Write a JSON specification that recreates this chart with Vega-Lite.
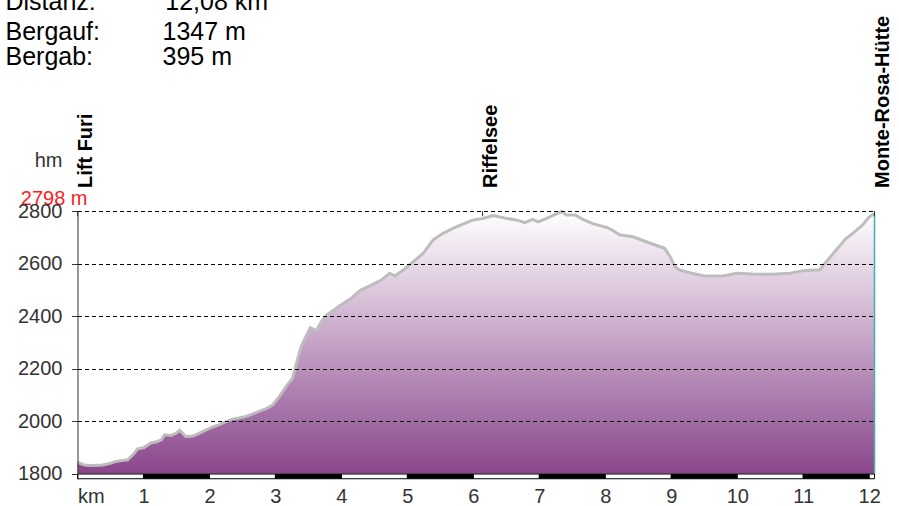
{
  "$schema": "https://vega.github.io/schema/vega-lite/v6.json",
  "width": 797,
  "height": 268,
  "autosize": {"type": "none"},
  "padding": {"left": 77.5, "top": 211, "right": 24.5, "bottom": 27},
  "background": "white",
  "config": {"view": {"stroke": null}, "font": "Liberation Sans"},
  "title": {
    "text": "Distanz:\u00a0\u00a0\u00a0\u00a0\u00a0\u00a0\u00a0\u00a0\u00a0\u00a012,08 km",
    "subtitle": ["Bergauf:\u00a0\u00a0\u00a0\u00a0\u00a0\u00a0\u00a0\u00a0\u00a01347 m", "Bergab:\u00a0\u00a0\u00a0\u00a0\u00a0\u00a0\u00a0\u00a0\u00a0\u00a0395 m"],
    "anchor": "start",
    "frame": "group",
    "orient": "top",
    "font": "Liberation Sans",
    "fontSize": 25,
    "fontWeight": "normal",
    "color": "#000000",
    "subtitleFont": "Liberation Sans",
    "subtitleFontSize": 25,
    "subtitleColor": "#000000",
    "subtitleLineHeight": 24.5,
    "subtitlePadding": 5,
    "offset": 0,
    "dx": -72,
    "dy": 54
  },
  "datasets": {
    "profil": [
      {"km": 0.00, "hoehe": 1845},
      {"km": 0.05, "hoehe": 1838},
      {"km": 0.13, "hoehe": 1832},
      {"km": 0.25, "hoehe": 1831},
      {"km": 0.38, "hoehe": 1833},
      {"km": 0.50, "hoehe": 1840},
      {"km": 0.58, "hoehe": 1847},
      {"km": 0.70, "hoehe": 1851},
      {"km": 0.76, "hoehe": 1853},
      {"km": 0.85, "hoehe": 1875},
      {"km": 0.91, "hoehe": 1895},
      {"km": 1.01, "hoehe": 1900},
      {"km": 1.11, "hoehe": 1917},
      {"km": 1.20, "hoehe": 1922},
      {"km": 1.27, "hoehe": 1929},
      {"km": 1.32, "hoehe": 1948},
      {"km": 1.42, "hoehe": 1946},
      {"km": 1.50, "hoehe": 1955},
      {"km": 1.55, "hoehe": 1965},
      {"km": 1.60, "hoehe": 1952},
      {"km": 1.64, "hoehe": 1942},
      {"km": 1.75, "hoehe": 1944},
      {"km": 1.85, "hoehe": 1955},
      {"km": 1.95, "hoehe": 1967},
      {"km": 2.05, "hoehe": 1978},
      {"km": 2.15, "hoehe": 1987},
      {"km": 2.25, "hoehe": 1998},
      {"km": 2.35, "hoehe": 2008},
      {"km": 2.45, "hoehe": 2012},
      {"km": 2.55, "hoehe": 2018},
      {"km": 2.65, "hoehe": 2027},
      {"km": 2.75, "hoehe": 2037},
      {"km": 2.86, "hoehe": 2048},
      {"km": 2.96, "hoehe": 2062},
      {"km": 3.06, "hoehe": 2094},
      {"km": 3.16, "hoehe": 2132},
      {"km": 3.26, "hoehe": 2164},
      {"km": 3.32, "hoehe": 2221},
      {"km": 3.39, "hoehe": 2284},
      {"km": 3.45, "hoehe": 2316},
      {"km": 3.53, "hoehe": 2356},
      {"km": 3.62, "hoehe": 2345},
      {"km": 3.70, "hoehe": 2380},
      {"km": 3.78, "hoehe": 2405},
      {"km": 3.87, "hoehe": 2420},
      {"km": 3.95, "hoehe": 2436},
      {"km": 4.05, "hoehe": 2452},
      {"km": 4.15, "hoehe": 2468},
      {"km": 4.28, "hoehe": 2497},
      {"km": 4.43, "hoehe": 2515},
      {"km": 4.61, "hoehe": 2538},
      {"km": 4.73, "hoehe": 2563},
      {"km": 4.81, "hoehe": 2553},
      {"km": 4.94, "hoehe": 2576},
      {"km": 5.09, "hoehe": 2607},
      {"km": 5.24, "hoehe": 2639},
      {"km": 5.39, "hoehe": 2690},
      {"km": 5.54, "hoehe": 2715},
      {"km": 5.69, "hoehe": 2734},
      {"km": 5.85, "hoehe": 2751},
      {"km": 6.00, "hoehe": 2766},
      {"km": 6.15, "hoehe": 2772},
      {"km": 6.30, "hoehe": 2783},
      {"km": 6.50, "hoehe": 2772},
      {"km": 6.65, "hoehe": 2766},
      {"km": 6.78, "hoehe": 2756},
      {"km": 6.90, "hoehe": 2768},
      {"km": 6.98, "hoehe": 2759},
      {"km": 7.11, "hoehe": 2772},
      {"km": 7.25, "hoehe": 2788},
      {"km": 7.34, "hoehe": 2798},
      {"km": 7.41, "hoehe": 2785},
      {"km": 7.54, "hoehe": 2785},
      {"km": 7.66, "hoehe": 2768},
      {"km": 7.82, "hoehe": 2751},
      {"km": 8.02, "hoehe": 2738},
      {"km": 8.12, "hoehe": 2725},
      {"km": 8.22, "hoehe": 2709},
      {"km": 8.42, "hoehe": 2702},
      {"km": 8.62, "hoehe": 2683},
      {"km": 8.83, "hoehe": 2664},
      {"km": 8.90, "hoehe": 2658},
      {"km": 8.98, "hoehe": 2627},
      {"km": 9.05, "hoehe": 2590},
      {"km": 9.12, "hoehe": 2576},
      {"km": 9.28, "hoehe": 2565},
      {"km": 9.48, "hoehe": 2554},
      {"km": 9.78, "hoehe": 2553},
      {"km": 9.99, "hoehe": 2563},
      {"km": 10.24, "hoehe": 2560},
      {"km": 10.54, "hoehe": 2559},
      {"km": 10.80, "hoehe": 2563},
      {"km": 11.00, "hoehe": 2573},
      {"km": 11.25, "hoehe": 2576},
      {"km": 11.35, "hoehe": 2607},
      {"km": 11.50, "hoehe": 2652},
      {"km": 11.65, "hoehe": 2696},
      {"km": 11.75, "hoehe": 2715},
      {"km": 11.90, "hoehe": 2747},
      {"km": 12.00, "hoehe": 2778},
      {"km": 12.08, "hoehe": 2790}
    ],
    "kilometer": [
      {"von": 0, "bis": 1, "abschnitt": "hell"},
      {"von": 1, "bis": 2, "abschnitt": "dunkel"},
      {"von": 2, "bis": 3, "abschnitt": "hell"},
      {"von": 3, "bis": 4, "abschnitt": "dunkel"},
      {"von": 4, "bis": 5, "abschnitt": "hell"},
      {"von": 5, "bis": 6, "abschnitt": "dunkel"},
      {"von": 6, "bis": 7, "abschnitt": "hell"},
      {"von": 7, "bis": 8, "abschnitt": "dunkel"},
      {"von": 8, "bis": 9, "abschnitt": "hell"},
      {"von": 9, "bis": 10, "abschnitt": "dunkel"},
      {"von": 10, "bis": 11, "abschnitt": "hell"},
      {"von": 11, "bis": 12, "abschnitt": "dunkel"},
      {"von": 12, "bis": 12.08, "abschnitt": "hell"}
    ],
    "punkte": [
      {"name": "Lift Furi", "km": 0},
      {"name": "Riffelsee", "km": 6.14},
      {"name": "Monte-Rosa-Hütte", "km": 12.08}
    ]
  },
  "layer": [
    {
      "data": {"name": "profil"},
      "mark": {
        "type": "area",
        "color": {
          "gradient": "linear",
          "x1": 0, "y1": 0, "x2": 0, "y2": 1,
          "stops": [
            {"offset": 0, "color": "#ffffff"},
            {"offset": 1, "color": "#8a468c"}
          ]
        }
      },
      "encoding": {
        "x": {
          "field": "km",
          "type": "quantitative",
          "scale": {"domain": [0, 12.08], "nice": false, "zero": false},
          "axis": {
            "values": [0, 1, 2, 3, 4, 5, 6, 7, 8, 9, 10, 11, 12],
            "format": "d",
            "grid": false,
            "domain": false,
            "ticks": false,
            "title": null,
            "labelFont": "Liberation Sans",
            "labelFontSize": 20,
            "labelColor": "#333333",
            "labelPadding": 7,
            "labelFlush": false,
            "labelOverlap": false,
            "labelExpr": "datum.value == 0 ? 'km' : datum.label",
            "labelAlign": {"condition": {"test": "datum.value == 0", "value": "left"}, "value": "center"}
          }
        },
        "y": {
          "field": "hoehe",
          "type": "quantitative",
          "scale": {"domain": [1780, 2800], "nice": false, "zero": false},
          "axis": {
            "values": [1800, 2000, 2200, 2400, 2600, 2800],
            "zindex": 1,
            "grid": true,
            "gridColor": "#000000",
            "gridDash": [4, 3],
            "gridWidth": 1,
            "gridOpacity": {"condition": {"test": "datum.value <= 1800", "value": 0}, "value": 1},
            "domain": true,
            "domainColor": "#333333",
            "ticks": true,
            "tickSize": 6,
            "tickColor": "#333333",
            "labelFont": "Liberation Sans",
            "labelFontSize": 20,
            "labelColor": "#333333",
            "labelPadding": 9.5,
            "format": "d",
            "title": "hm",
            "titleAngle": 0,
            "titleAlign": "right",
            "titleBaseline": "alphabetic",
            "titleX": -15.5,
            "titleY": -44.5,
            "titleFont": "Liberation Sans",
            "titleFontSize": 20,
            "titleFontWeight": "normal",
            "titleColor": "#333333"
          }
        },
        "y2": {"datum": 1800}
      }
    },
    {
      "data": {"name": "profil"},
      "mark": {"type": "line", "color": "#bdbdbd", "strokeWidth": 3},
      "encoding": {
        "x": {"field": "km", "type": "quantitative"},
        "y": {"field": "hoehe", "type": "quantitative"}
      }
    },
    {
      "data": {"name": "profil"},
      "transform": [
        {"joinaggregate": [{"op": "max", "field": "km", "as": "ende"}]},
        {"filter": "datum.km == datum.ende"}
      ],
      "mark": {"type": "rule", "color": "#3fb0b5", "strokeWidth": 1.5},
      "encoding": {
        "x": {"field": "km", "type": "quantitative"},
        "y": {"field": "hoehe", "type": "quantitative"},
        "y2": {"datum": 1800}
      }
    },
    {
      "data": {"name": "kilometer"},
      "mark": {"type": "rect", "stroke": "#000000", "strokeWidth": 1},
      "encoding": {
        "x": {"field": "von", "type": "quantitative"},
        "x2": {"field": "bis"},
        "y": {"datum": 1781},
        "y2": {"datum": 1799},
        "fill": {
          "field": "abschnitt",
          "type": "nominal",
          "scale": {"domain": ["hell", "dunkel"], "range": ["#ffffff", "#000000"]},
          "legend": null
        }
      }
    },
    {
      "data": {"name": "punkte"},
      "mark": {"type": "rule", "color": "#333333", "strokeWidth": 1},
      "encoding": {
        "x": {"field": "km", "type": "quantitative"},
        "y": {"datum": 2800},
        "y2": {"datum": 2780}
      }
    },
    {
      "data": {"name": "punkte"},
      "mark": {
        "type": "text",
        "angle": 270,
        "align": "left",
        "baseline": "alphabetic",
        "dx": 23,
        "dy": 14,
        "font": "Liberation Sans",
        "fontSize": 20,
        "fontWeight": "bold",
        "color": "#000000"
      },
      "encoding": {
        "x": {"field": "km", "type": "quantitative"},
        "y": {"datum": 2800},
        "text": {"field": "name"}
      }
    },
    {
      "data": {"name": "profil"},
      "transform": [
        {"aggregate": [{"op": "max", "field": "hoehe", "as": "maxHoehe"}, {"op": "min", "field": "km", "as": "start"}]},
        {"calculate": "format(datum.maxHoehe, 'd') + ' m'", "as": "beschriftung"}
      ],
      "mark": {
        "type": "text",
        "align": "right",
        "baseline": "alphabetic",
        "dx": 10,
        "dy": -6.5,
        "font": "Liberation Sans",
        "fontSize": 20,
        "color": "#ff2020"
      },
      "encoding": {
        "x": {"field": "start", "type": "quantitative"},
        "y": {"field": "maxHoehe", "type": "quantitative"},
        "text": {"field": "beschriftung"}
      }
    }
  ]
}
